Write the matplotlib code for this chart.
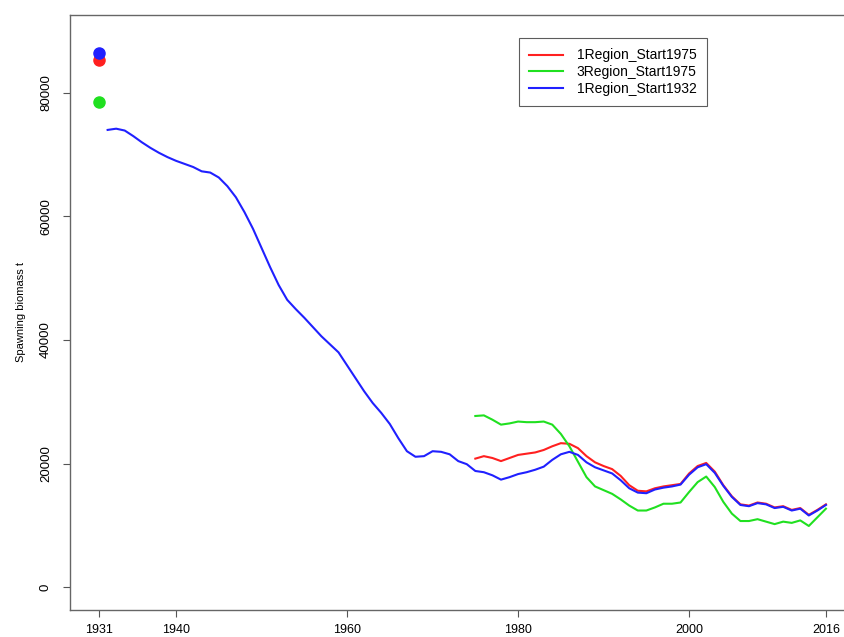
import numpy as np
import matplotlib.pyplot as plt

plt.rcParams['font.family'] = ['Liberation Sans', 'DejaVu Sans']

# ------------------------------
# Spawning biomass estimates (t)
# ------------------------------
years_1932 = np.arange(1932, 2017)
biomass_1region_1932 = [
    74000, 74200, 73900, 73000, 72000, 71100, 70300, 69600, 69000, 68500,
    68000, 67300, 67100, 66300, 64900, 63100, 60700, 58000, 54900, 51800,
    48900, 46500, 45000, 43600, 42100, 40600, 39300, 38000, 35900, 33800,
    31700, 29800, 28200, 26400, 24100, 22000, 21100, 21200, 22000, 21900,
    21500, 20400, 19900, 18800, 18600, 18100, 17400, 17800, 18300, 18600,
    19000, 19500, 20600, 21500, 21900, 21400, 20200, 19400, 18900, 18400,
    17300, 16000, 15300, 15200, 15800, 16100, 16300, 16600, 18200, 19400,
    19900, 18500, 16400, 14600, 13300, 13100, 13600, 13400, 12800, 13000,
    12400, 12700, 11600, 12400, 13300,
]

years_1975 = np.arange(1975, 2017)
biomass_1region_1975 = [
    20800, 21200, 20900, 20400, 20900, 21400, 21600, 21800, 22200, 22800,
    23300, 23200, 22500, 21200, 20200, 19600, 19100, 18000, 16500, 15600,
    15500, 16000, 16300, 16500, 16700, 18400, 19600, 20100, 18700, 16500,
    14700, 13400, 13200, 13700, 13500, 12900, 13100, 12500, 12800, 11700,
    12500, 13400,
]
biomass_3region_1975 = [
    27700, 27800, 27100, 26300, 26500, 26800, 26700, 26700, 26800, 26300,
    24800, 22800, 20300, 17800, 16300, 15700, 15100, 14200, 13200, 12400,
    12400, 12900, 13500, 13500, 13700, 15400, 17000, 17900, 16200, 13800,
    11900, 10700, 10700, 11000, 10600, 10200, 10600, 10400, 10800, 9900,
    11300, 12700,
]

# unfished biomass (B0) plotted at 1931
b0_year = 1931
b0_1region_1975 = 85300
b0_3region_1975 = 78500
b0_1region_1932 = 86500

series_names = ["1Region_Start1975", "3Region_Start1975", "1Region_Start1932"]
series_colors = ["#ff2020", "#20e020", "#2020ff"]

x_ticks = [1931, 1940, 1960, 1980, 2000, 2016]
y_ticks = [0, 20000, 40000, 60000, 80000]

fig = plt.figure(figsize=(8.45, 6.37), dpi=100)
ax = fig.add_axes([70 / 845, 27 / 637, 785 / 845, 595 / 637])

ax.plot(years_1975, biomass_1region_1975, color=series_colors[0], lw=1.5,
        label=series_names[0])
ax.plot(years_1975, biomass_3region_1975, color=series_colors[1], lw=1.5,
        label=series_names[1])
ax.plot(years_1932, biomass_1region_1932, color=series_colors[2], lw=1.5,
        label=series_names[2])

ax.plot(b0_year, b0_1region_1975, 'o', color=series_colors[0], ms=8)
ax.plot(b0_year, b0_3region_1975, 'o', color=series_colors[1], ms=8)
ax.plot(b0_year, b0_1region_1932, 'o', color=series_colors[2], ms=8)

ax.set_xlim(1927.6, 2019.4)
ax.set_ylim(-3700, 92600)
ax.set_xticks(x_ticks)
ax.set_xticklabels([str(y) for y in x_ticks], fontsize=9)
ax.set_yticks(y_ticks)
ax.set_yticklabels([str(v) for v in y_ticks], fontsize=9.5, rotation=90,
                   va='center')
ax.tick_params(direction='out', length=5, width=0.8, color='#555555')
ax.tick_params(axis='x', pad=5)
ax.tick_params(axis='y', pad=8)
for side in ax.spines.values():
    side.set_color('#666666')
    side.set_linewidth(1.0)

ax.set_ylabel("Spawning biomass t", fontsize=8, labelpad=10)

leg = ax.legend(loc='upper left', bbox_to_anchor=(449 / 785, 1 - 23 / 595),
                fontsize=10, frameon=True, fancybox=False, handlelength=2.4,
                borderpad=0.75, labelspacing=0.2, handletextpad=1.0,
                borderaxespad=0)
leg.get_frame().set_edgecolor('#333333')
leg.get_frame().set_linewidth(0.8)

fig.savefig("out.png", dpi=100)
